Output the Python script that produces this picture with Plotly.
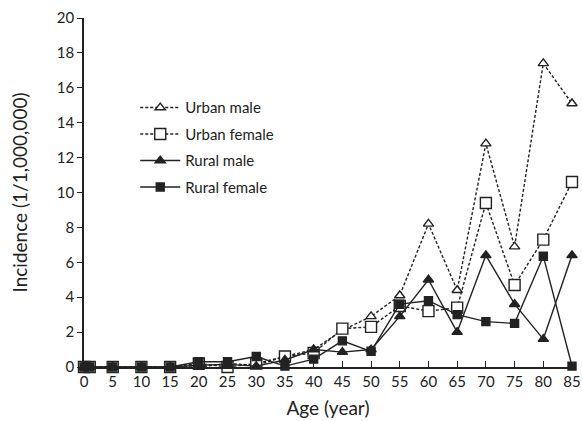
import plotly.graph_objects as go

ages = [0, 1, 5, 10, 15, 20, 25, 30, 35, 40, 45, 50, 55, 60, 65, 70, 75, 80, 85]
urban_male = [0, 0, 0, 0, 0, 0, 0.2, 0.1, 0.6, 1.0, 2.1, 2.9, 4.1, 8.2, 4.4, 12.8, 6.9, 17.4, 15.1]
urban_female = [0, 0, 0, 0, 0, 0.2, 0, 0.2, 0.6, 0.8, 2.2, 2.3, 3.5, 3.2, 3.4, 9.4, 4.7, 7.3, 10.6]
rural_male = [0, 0, 0, 0, 0, 0.1, 0.15, 0.05, 0.4, 1.0, 0.85, 1.0, 2.9, 5.0, 2.0, 6.4, 3.6, 1.6, 6.4]
rural_female = [0, 0, 0, 0, 0, 0.3, 0.3, 0.6, 0.05, 0.45, 1.5, 0.9, 3.6, 3.8, 3.0, 2.6, 2.5, 6.35, 0.05]
x_ticks = list(range(0, 90, 5))
y_ticks = list(range(0, 22, 2))

FONT = "Lato, Open Sans, sans-serif"
C = "#222222"

fig = go.Figure()
series = [
    ("Urban male", urban_male, "triangle-up", "white", "3px,2px", 9),
    ("Urban female", urban_female, "square", "white", "3px,2px", 11),
    ("Rural male", rural_male, "triangle-up", C, "solid", 9),
    ("Rural female", rural_female, "square", C, "solid", 8),
]
for name, vals, sym, fill, dash, size in series:
    fig.add_trace(go.Scatter(
        x=ages, y=vals, name=name, mode="lines+markers", legendgroup=name,
        line=dict(color=C, width=1.4, dash=dash),
        marker=dict(symbol=sym, size=size, color=fill, line=dict(color=C, width=1.4)),
        cliponaxis=False,
    ))

fig.update_layout(
    width=582, height=421,
    margin=dict(l=84, r=10, t=18, b=54),
    plot_bgcolor="white", paper_bgcolor="white",
    font=dict(family=FONT, color="#222", size=15),
    showlegend=True,
    legend=dict(x=0.105, y=0.79, xanchor="left", yanchor="top",
                bgcolor="rgba(0,0,0,0)", font=dict(size=15, family=FONT),
                tracegroupgap=4, itemwidth=40),
    xaxis=dict(range=[0, 85], tickvals=x_ticks, ticks="inside", ticklen=6,
               tickwidth=1.2, tickcolor=C, showline=True, linecolor=C, linewidth=1.5,
               showgrid=False, zeroline=False, automargin=False,
               title=dict(text="Age (year)", font=dict(size=19), standoff=13),
               tickfont=dict(size=15)),
    yaxis=dict(range=[0, 20], tickvals=y_ticks, ticks="outside", ticklen=5,
               tickwidth=1.2, tickcolor=C, showline=True, linecolor=C, linewidth=1.5,
               showgrid=False, zeroline=False, automargin=False,
               title=dict(text="Incidence (1/1,000,000)", font=dict(size=19), standoff=24),
               tickfont=dict(size=15)),
)

fig.write_html("out.html", config={"displayModeBar": False},
               post_script="document.body.style.margin='0';document.body.style.overflow='hidden';")
